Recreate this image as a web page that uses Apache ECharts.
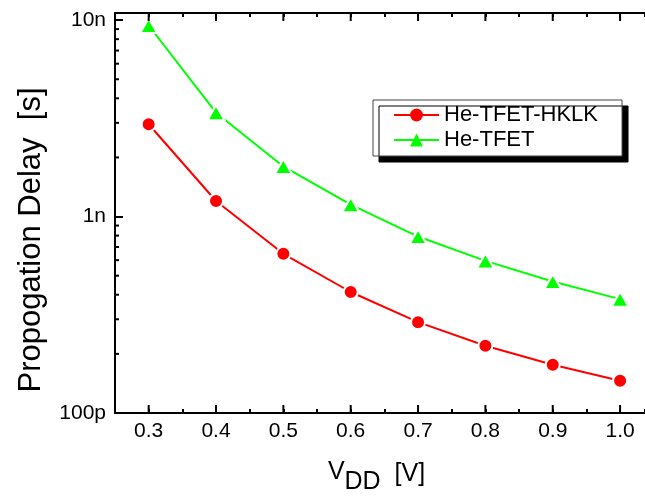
<!DOCTYPE html>
<html>
<head>
<meta charset="utf-8">
<script src="https://cdn.jsdelivr.net/npm/echarts@6/dist/echarts.min.js"></script>
<style>
  html, body { margin: 0; padding: 0; background: #fff; }
  #chart { width: 645px; height: 497px; }
</style>
</head>
<body>
<div id="chart"></div>
<script>
// Supply voltage sweep (V)
const vdd = [0.3, 0.4, 0.5, 0.6, 0.7, 0.8, 0.9, 1.0];
// Propagation delay (s) for each device
const delayHKLK = [2.95e-9, 1.20e-9, 6.46e-10, 4.13e-10, 2.90e-10, 2.20e-10, 1.76e-10, 1.46e-10];
const delayTFET = [9.39e-9, 3.38e-9, 1.80e-9, 1.15e-9, 7.91e-10, 5.95e-10, 4.67e-10, 3.80e-10];
const seriesNames = ['He-TFET-HKLK', 'He-TFET'];
// Decade labels on the delay axis, keyed by exponent
const yTickLabels = { '-10': '100p', '-9': '1n', '-8': '10n' };
// Major tick values on the voltage axis
const xTickValues = [0.3, 0.4, 0.5, 0.6, 0.7, 0.8, 0.9, 1.0];

const X_MIN = 0.25, X_MAX = 1.037;
const Y_MIN = 1e-10, Y_MAX = 1.087e-8;
const FONT = 'Liberation Sans, Arial, sans-serif';

// Extra tick marks: log minor ticks (kind 0), long bottom ticks (1), long top ticks (2)
const tickData = [];
for (let e = -10; e <= -9; e++) {
  for (let k = 2; k <= 9; k++) {
    const v = k * Math.pow(10, e);
    if (v < Y_MAX) tickData.push([X_MIN, v, 0]);
  }
}
xTickValues.forEach(function (x) {
  tickData.push([x, Y_MIN, 1]);
  tickData.push([x, Y_MAX, 2]);
});

function isTenth(v) {
  return Math.abs(v * 10 - Math.round(v * 10)) < 1e-6;
}

const chart = echarts.init(document.getElementById('chart'), null, { renderer: 'canvas' });

const axisLine = { show: true, lineStyle: { color: '#000', width: 2 } };

chart.setOption({
  animation: false,
  backgroundColor: '#fff',
  textStyle: { fontFamily: FONT },
  grid: { left: 115, top: 13, bottom: 84, right: 0, containLabel: false, outerBoundsMode: 'none' },
  legend: {
    data: seriesNames,
    orient: 'vertical',
    left: 373,
    top: 100,
    padding: [4, 24, 5, 20],
    itemWidth: 45,
    itemHeight: 16,
    itemGap: 3,
    itemStyle: { borderWidth: 0 },
    backgroundColor: '#fff',
    borderColor: '#444',
    borderWidth: 1,
    borderRadius: 0,
    shadowColor: '#000',
    shadowBlur: 0,
    shadowOffsetX: 6,
    shadowOffsetY: 6,
    textStyle: { fontFamily: FONT, fontSize: 22, color: '#000' }
  },
  xAxis: [
    {
      type: 'value',
      position: 'bottom',
      min: X_MIN,
      max: X_MAX,
      interval: 0.05,
      axisLine: axisLine,
      axisTick: { show: true, inside: true, length: 4, lineStyle: { color: '#000', width: 2 } },
      splitLine: { show: false },
      axisLabel: {
        color: '#000',
        fontSize: 21,
        fontFamily: FONT,
        margin: 8,
        showMinLabel: true,
        showMaxLabel: true,
        formatter: function (v) { return isTenth(v) ? v.toFixed(1) : ''; }
      },
      name: '{v|V}{s|DD}{u|  [V]}',
      nameLocation: 'middle',
      nameGap: 45,
      nameTextStyle: {
        padding: [0, 7, 0, 0],
        rich: {
          v: { fontSize: 25, fontFamily: FONT, color: '#000', padding: [0, 0, 8, 0] },
          s: { fontSize: 25, fontFamily: FONT, color: '#000', padding: [12, 0, 0, 0] },
          u: { fontSize: 25, fontFamily: FONT, color: '#000', padding: [0, 0, 4, 0] }
        }
      }
    },
    {
      type: 'value',
      position: 'top',
      min: X_MIN,
      max: X_MAX,
      interval: 0.05,
      axisLine: axisLine,
      axisTick: { show: true, inside: true, length: 4, lineStyle: { color: '#000', width: 2 } },
      axisLabel: { show: false },
      splitLine: { show: false }
    }
  ],
  yAxis: {
    type: 'log',
    logBase: 10,
    min: Y_MIN,
    max: Y_MAX,
    axisLine: axisLine,
    axisTick: { show: true, inside: true, length: 8, lineStyle: { color: '#000', width: 2 } },
    splitLine: { show: false },
    axisLabel: {
      color: '#000',
      fontSize: 21,
      fontFamily: FONT,
      margin: 9,
      formatter: function (v) {
        const e = Math.log10(v);
        const r = Math.round(e);
        return Math.abs(e - r) < 0.01 && yTickLabels[String(r)] ? yTickLabels[String(r)] : '';
      }
    },
    name: 'Propogation Delay  [s]',
    nameLocation: 'middle',
    nameGap: 68,
    nameTextStyle: { fontSize: 31, fontFamily: FONT, color: '#000', padding: [0, 54, 0, 0] }
  },
  series: [
    {
      name: seriesNames[0],
      type: 'line',
      data: vdd.map(function (x, i) { return [x, delayHKLK[i]]; }),
      symbol: 'circle',
      symbolSize: 14,
      itemStyle: { color: '#ff0000', borderColor: '#fff', borderWidth: 2 },
      lineStyle: { color: '#ff0000', width: 2 },
      z: 3
    },
    {
      name: seriesNames[1],
      type: 'line',
      data: vdd.map(function (x, i) { return [x, delayTFET[i]]; }),
      symbol: 'triangle',
      symbolSize: [17, 15],
      itemStyle: { color: '#00ff00', borderColor: '#fff', borderWidth: 2 },
      lineStyle: { color: '#00ff00', width: 2 },
      z: 3
    },
    {
      name: 'ticks',
      type: 'custom',
      silent: true,
      clip: false,
      z: 4,
      encode: { x: 0, y: 1 },
      data: tickData,
      renderItem: function (params, api) {
        const p = api.coord([api.value(0), api.value(1)]);
        const kind = api.value(2);
        let dx = 0, dy = 0;
        if (kind === 0) dx = 4;
        else if (kind === 1) dy = -8;
        else dy = 8;
        return {
          type: 'line',
          shape: { x1: p[0], y1: p[1], x2: p[0] + dx, y2: p[1] + dy },
          style: { stroke: '#000', lineWidth: 2 }
        };
      }
    }
  ]
});
</script>
</body>
</html>
